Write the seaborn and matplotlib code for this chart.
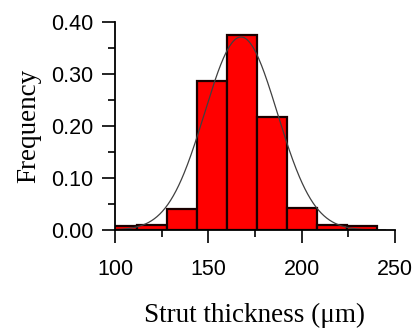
import numpy as np
import pandas as pd
import matplotlib
matplotlib.use("Agg")
import matplotlib.pyplot as plt
from matplotlib.ticker import MultipleLocator, FormatStrFormatter
import seaborn as sns

# Histogram data (relative frequency per bin)
bin_edges = [95.9, 112.0, 128.0, 144.1, 160.2, 176.2, 192.3, 208.4, 224.4, 240.5]
frequencies = [0.008, 0.010, 0.041, 0.287, 0.375, 0.217, 0.042, 0.010, 0.008]

# Fitted normal curve parameters
fit_mean = 167.5
fit_sigma = 19.5
fit_peak = 0.372
fit_range = [100, 245]

x_label = "Strut thickness (\u03bcm)"
y_label = "Frequency"

sns.set_style("ticks")
plt.rcParams["font.family"] = ["Liberation Sans", "DejaVu Sans"]
plt.rcParams["text.color"] = "black"
plt.rcParams["axes.labelcolor"] = "black"
plt.rcParams["xtick.color"] = "black"
plt.rcParams["ytick.color"] = "black"

fig = plt.figure(figsize=(4.18, 3.35), dpi=100)
ax = fig.add_axes([0.275, 0.313, 0.67, 0.62])

centers = [(a + b) / 2 for a, b in zip(bin_edges[:-1], bin_edges[1:])]
df = pd.DataFrame({"x": centers, "w": frequencies})
sns.histplot(data=df, x="x", weights="w", bins=bin_edges, stat="count",
             color="#ff0000", edgecolor="#1a0000", linewidth=1.6, alpha=1.0, ax=ax)

xs = np.linspace(fit_range[0], fit_range[1], 400)
ys = fit_peak * np.exp(-0.5 * ((xs - fit_mean) / fit_sigma) ** 2)
sns.lineplot(x=xs, y=ys, color="#404040", linewidth=0.9, ax=ax)

ax.set_xlim(100, 250)
ax.set_ylim(0, 0.40)
ax.xaxis.set_major_locator(MultipleLocator(50))
ax.xaxis.set_minor_locator(MultipleLocator(25))
ax.yaxis.set_major_locator(MultipleLocator(0.10))
ax.yaxis.set_minor_locator(MultipleLocator(0.05))
ax.yaxis.set_major_formatter(FormatStrFormatter("%.2f"))

for s in ["top", "right"]:
    ax.spines[s].set_visible(False)
for s in ["left", "bottom"]:
    ax.spines[s].set_linewidth(1.3)
    ax.spines[s].set_color("black")

ax.tick_params(which="major", length=9.5, width=1.2, labelsize=15.5,
               color="black", labelcolor="black")
ax.tick_params(axis="x", which="major", pad=11)
ax.tick_params(axis="y", which="major", pad=6)
ax.tick_params(which="minor", length=5, width=1.2, color="black")

ax.set_xlabel(x_label, fontsize=19.5, family=["Liberation Serif", "DejaVu Serif"],
              labelpad=17, color="black")
ax.set_ylabel(y_label, fontsize=19.5, family=["Liberation Serif", "DejaVu Serif"],
              labelpad=7, color="black")

fig.savefig("out.png", dpi=100)
